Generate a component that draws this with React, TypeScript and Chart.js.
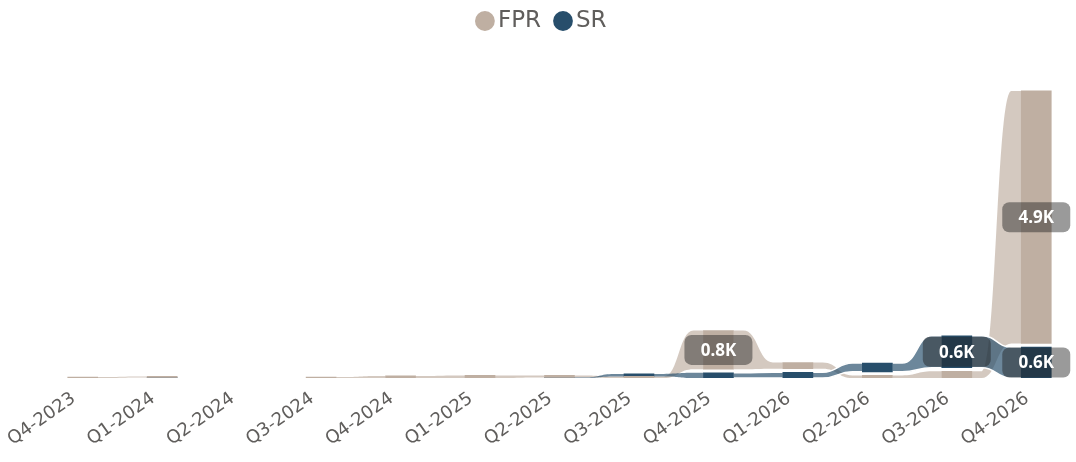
import React, { useEffect, useRef } from 'react';
import { Chart, registerables } from 'chart.js';

Chart.register(...registerables);

// ---- data (values in thousands) ----
const categories = [
  'Q4-2023', 'Q1-2024', 'Q2-2024', 'Q3-2024', 'Q4-2024', 'Q1-2025', 'Q2-2025',
  'Q3-2025', 'Q4-2025', 'Q1-2026', 'Q2-2026', 'Q3-2026', 'Q4-2026',
];
const seriesNames = ['FPR', 'SR'];
const fprValues = [0.02, 0.02, 0, 0.02, 0.04, 0.05, 0.04, 0.03, 0.75, 0.12, 0.05, 0.13, 4.9];
const srValues = [0, 0.01, 0, 0, 0, 0, 0.01, 0.05, 0.1, 0.11, 0.17, 0.62, 0.6];

// ---- styling ----
const FONT = '"DejaVu Sans", sans-serif';
const LABEL_FONT = '"Noto Sans", "DejaVu Sans", sans-serif';
const TEXT_COLOR = '#605E5C';
const BAR_COLORS = ['#BFAFA2', '#274E6B'];
const RIBBON_COLORS = ['rgba(191,175,162,0.68)', 'rgba(39,78,107,0.68)'];
const GAP = 0.07; // spacing between stacked ribbons (value units)
const Y_MAX = 6.51;
const LABEL_MIN = 0.5;
const FLAT = 0.2; // fraction of the gap that a ribbon stays flat next to each bar

type Range = [number, number] | null;

function buildRanges(a: number[], b: number[]): [Range[], Range[]] {
  const ra: Range[] = [];
  const rb: Range[] = [];
  for (let i = 0; i < a.length; i++) {
    const va = a[i];
    const vb = b[i];
    const aOnTop = va >= vb;
    const low = aOnTop ? vb : va;
    const high = aOnTop ? va : vb;
    const gap = low >= 0.04 ? GAP : 0;
    const lowR: Range = low > 0 ? [0, low] : null;
    const highStart = low > 0 ? low + gap : 0;
    const highR: Range = high > 0 ? [highStart, highStart + high] : null;
    if (aOnTop) {
      ra.push(highR);
      rb.push(lowR);
    } else {
      ra.push(lowR);
      rb.push(highR);
    }
  }
  return [ra, rb];
}

const allValues = [fprValues, srValues];

function edge(ctx: CanvasRenderingContext2D, xa: number, ya: number, xb: number, yb: number, move: boolean) {
  const dir = xb > xa ? 1 : -1;
  const len = Math.abs(xb - xa);
  const f = len * FLAT;
  const sx = xa + dir * f;
  const ex = xb - dir * f;
  const cx = (sx + ex) / 2;
  if (move) ctx.moveTo(xa, ya);
  else ctx.lineTo(xa, ya);
  ctx.lineTo(sx, ya);
  ctx.bezierCurveTo(cx, ya, cx, yb, ex, yb);
  ctx.lineTo(xb, yb);
}

const ribbonPlugin = {
  id: 'ribbons',
  beforeDatasetsDraw(chart: any) {
    const ctx = chart.ctx as CanvasRenderingContext2D;
    chart.data.datasets.forEach((_: any, di: number) => {
      const meta = chart.getDatasetMeta(di);
      const vals = allValues[di];
      ctx.save();
      for (let i = 0; i < vals.length - 1; i++) {
        if (!(vals[i] > 0 && vals[i + 1] > 0)) continue;
        const pa = meta.data[i].getProps(['x', 'y', 'base', 'width'], true);
        const pb = meta.data[i + 1].getProps(['x', 'y', 'base', 'width'], true);
        const x0 = pa.x + pa.width / 2;
        const x1 = pb.x - pb.width / 2;
        const t0 = Math.min(pa.y, pa.base);
        const b0 = Math.max(pa.y, pa.base);
        const t1 = Math.min(pb.y, pb.base);
        const b1 = Math.max(pb.y, pb.base);
        ctx.beginPath();
        edge(ctx, x0, t0, x1, t1, true);
        edge(ctx, x1, b1, x0, b0, false);
        ctx.closePath();
        ctx.fillStyle = RIBBON_COLORS[di];
        ctx.fill();
        if (di === 1 && b0 - t0 > 4 && b1 - t1 > 4) {
          ctx.strokeStyle = '#FFFFFF';
          ctx.lineWidth = 1.5;
          ctx.beginPath();
          edge(ctx, x0, t0, x1, t1, true);
          ctx.stroke();
          ctx.beginPath();
          edge(ctx, x1, b1, x0, b0, true);
          ctx.stroke();
        }
      }
      ctx.restore();
    });
  },
  afterDatasetsDraw(chart: any) {
    const ctx = chart.ctx as CanvasRenderingContext2D;
    ctx.save();
    chart.data.datasets.forEach((_: any, di: number) => {
      const meta = chart.getDatasetMeta(di);
      const vals = allValues[di];
      vals.forEach((v, i) => {
        if (v < LABEL_MIN) return;
        const p = meta.data[i].getProps(['x', 'y', 'base'], true);
        const cy = (p.y + p.base) / 2;
        const w = 68;
        const h = 30;
        ctx.fillStyle = 'rgba(30,30,30,0.45)';
        ctx.beginPath();
        (ctx as any).roundRect(p.x - w / 2, cy - h / 2, w, h, 7);
        ctx.fill();
        ctx.fillStyle = '#FFFFFF';
        ctx.font = `bold 17px ${LABEL_FONT}`;
        ctx.textAlign = 'center';
        ctx.textBaseline = 'middle';
        ctx.fillText(`${v.toFixed(1)}K`, p.x, cy + 1);
      });
    });
    ctx.restore();
  },
};

export default function App() {
  const canvasRef = useRef<HTMLCanvasElement | null>(null);

  useEffect(() => {
    if (!canvasRef.current) return;
    const [fprRanges, srRanges] = buildRanges(fprValues, srValues);
    const chart = new Chart(canvasRef.current, {
      type: 'bar',
      data: {
        labels: categories,
        datasets: [
          {
            label: seriesNames[0],
            data: fprRanges as any,
            backgroundColor: BAR_COLORS[0],
            borderWidth: 0,
            grouped: false,
            barThickness: 30,
          } as any,
          {
            label: seriesNames[1],
            data: srRanges as any,
            backgroundColor: BAR_COLORS[1],
            borderWidth: 0,
            grouped: false,
            barThickness: 30,
          } as any,
        ],
      },
      options: {
        responsive: false,
        animation: false,
        layout: { padding: { top: -11, left: 14, right: 0, bottom: 0 } },
        plugins: {
          tooltip: { enabled: false },
          legend: {
            position: 'top',
            align: 'center',
            labels: {
              usePointStyle: true,
              pointStyle: 'circle',
              boxWidth: 3,
              boxHeight: 14,
              padding: 20.5,
              color: TEXT_COLOR,
              font: { family: FONT, size: 23 },
            },
          },
        },
        scales: {
          x: {
            grid: { display: false },
            border: { display: false },
            ticks: {
              autoSkip: false,
              maxRotation: 35,
              minRotation: 35,
              color: TEXT_COLOR,
              font: { family: FONT, size: 18 },
              padding: 2,
              labelOffset: -9,
            },
            afterFit(scale: any) {
              scale.paddingLeft = 43;
              scale.paddingRight = 0;
              scale.height = 84;
            },
          },
          y: {
            display: false,
            min: 0,
            max: Y_MAX,
          },
        },
      },
      plugins: [ribbonPlugin],
    });
    return () => chart.destroy();
  }, []);

  return (
    <canvas
      ref={canvasRef}
      width={1076}
      height={462}
      style={{ position: 'fixed', left: 0, top: 0, display: 'block' }}
    />
  );
}
